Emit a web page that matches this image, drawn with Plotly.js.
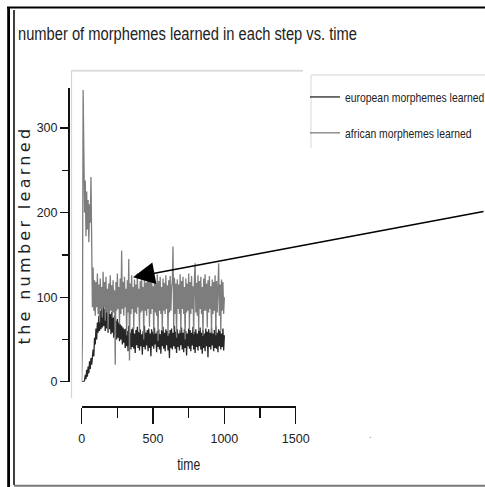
<!DOCTYPE html>
<html>
<head>
<meta charset="utf-8">
<script src="https://cdn.plot.ly/plotly-3.0.1.min.js"></script>
<style>
  html, body { margin: 0; padding: 0; background: #fff; overflow: hidden; }
  #chart { width: 485px; height: 487px; }
  .ytitle { letter-spacing: 3.3px; }
  .gtitle { transform: scaleX(0.84); transform-box: fill-box; transform-origin: left center; }
  .legendtext { transform: scaleX(0.8); transform-box: fill-box; transform-origin: left center; }
  .xtitle { transform: scaleX(0.76); transform-box: fill-box; transform-origin: center; }
</style>
</head>
<body>
<div id="chart"></div>
<script>
// ---- data ----
const time = [
  0,5,10,15,20,25,30,35,40,45,50,55,60,65,70,75,80,85,90,95,
  100,105,110,115,120,125,130,135,140,145,150,155,160,165,170,175,180,185,190,195,
  200,205,210,215,220,225,230,235,240,245,250,255,260,265,270,275,280,285,290,295,
  300,305,310,315,320,325,330,335,340,345,350,355,360,365,370,375,380,385,390,395,
  400,405,410,415,420,425,430,435,440,445,450,455,460,465,470,475,480,485,490,495,
  500,505,510,515,520,525,530,535,540,545,550,555,560,565,570,575,580,585,590,595,
  600,605,610,615,620,625,630,635,640,645,650,655,660,665,670,675,680,685,690,695,
  700,705,710,715,720,725,730,735,740,745,750,755,760,765,770,775,780,785,790,795,
  800,805,810,815,820,825,830,835,840,845,850,855,860,865,870,875,880,885,890,895,
  900,905,910,915,920,925,930,935,940,945,950,955,960,965,970,975,980,985,990,995,
  1000
];

const europeanLearned = [
  0,0,0,0,2,
  8,3,14,6,18,10,24,15,28,20,33,
  38,30,52,44,63,50,70,
  58,78,60,84,62,88,64,92,66,86,60,90,63,84,58,86,62,80,56,82,
  58,76,52,78,55,72,50,74,52,70,48,68,50,66,44,64,46,62,
  40,63,42,60,36,66,44,58,38,62,41,64,39,57,34,61,43,65,40,59,
  37,62,42,56,32,60,41,66,38,58,43,61,36,63,40,57,30,62,42,59,
  39,64,44,57,35,60,41,62,38,56,33,61,42,65,39,58,36,62,43,60,
  37,57,28,61,40,63,38,58,42,66,39,59,34,62,41,57,37,61,43,64,
  38,58,35,62,40,60,31,57,42,63,39,61,36,58,43,65,38,59,34,62,
  41,57,37,60,42,64,38,58,33,61,40,57,36,63,42,59,29,62,41,58,
  38,64,43,57,36,61,40,66,39,58,35,62,42,60,38,57,41,63,37,55
];

const africanLearned = [
  0,50,345,270,200,238,172,225,180,215,165,210,188,242,110,88,
  135,84,120,78,118,88,128,80,115,70,122,86,112,76,130,88,118,72,124,82,
  110,60,116,80,126,84,114,76,120,82,108,20,118,84,128,86,112,68,122,80,
  155,86,118,78,124,88,110,55,120,82,145,25,116,80,126,86,112,62,121,82,
  115,80,128,88,110,58,119,82,124,84,112,50,126,84,117,78,122,86,134,65,
  118,80,125,86,113,56,121,82,116,78,127,48,119,84,124,80,112,60,122,84,
  117,80,126,86,114,54,120,82,125,84,111,118,160,62,123,80,116,52,121,86,
  115,80,127,58,119,86,124,80,112,50,122,82,116,84,128,62,118,80,125,86,
  113,56,121,140,82,117,78,126,60,119,86,124,80,112,54,122,84,127,84,116,
  64,120,82,125,86,113,58,121,80,118,84,126,55,119,82,124,140,78,115,60,
  121,84,118,80,100
];

const seriesNames = ['european morphemes learned', 'african morphemes learned'];
const xTickVals = [0, 500, 1000, 1500];
const yTickVals = [0, 100, 200, 300];

// ---- layout helpers (pixel -> paper) ----
const W = 485, H = 487;
const px = x => x / W;
const py = y => 1 - y / H;

const sans = 'Liberation Sans, Arial, sans-serif';

const traces = [
  {
    x: time, y: europeanLearned, type: 'scatter', mode: 'lines',
    name: seriesNames[0], legendgroup: 'eu',
    line: { color: '#262626', width: 1.3 }
  },
  {
    x: time, y: africanLearned, type: 'scatter', mode: 'lines',
    name: seriesNames[1], legendgroup: 'af',
    line: { color: '#7d7d7d', width: 1.3 }
  }
];

function seg(x0, y0, x1, y1, color, width) {
  return { type: 'line', xref: 'paper', yref: 'paper',
    x0: px(x0), y0: py(y0), x1: px(x1), y1: py(y1),
    line: { color: color, width: width } };
}

const layout = {
  width: W, height: H,
  margin: { l: 0, r: 0, t: 0, b: 0, pad: 0, autoexpand: false },
  paper_bgcolor: '#fff', plot_bgcolor: 'rgba(0,0,0,0)',
  font: { family: sans, color: '#222' },
  title: {
    text: 'number of morphemes learned in each step vs. time',
    font: { family: sans, size: 17.5, color: '#222' },
    xref: 'container', yref: 'container',
    x: px(18), xanchor: 'left', y: py(34), yanchor: 'middle'
  },
  xaxis: {
    domain: [px(81.7), px(295.7)], range: [0, 1500],
    anchor: 'free', position: py(406),
    showline: true, linecolor: '#111', linewidth: 1.5,
    showgrid: false, zeroline: false,
    ticks: 'outside', ticklen: 16, tickwidth: 1.3, tickcolor: '#111',
    tickmode: 'array', tickvals: xTickVals, ticktext: xTickVals.map(String),
    ticklabelstandoff: 4,
    minor: { dtick: 250, tick0: 0, ticks: 'outside', ticklen: 10, tickwidth: 1.3, tickcolor: '#111', showgrid: false },
    tickfont: { family: sans, size: 12.5, color: '#222' },
    title: { text: 'time', font: { family: sans, size: 16, color: '#222' }, standoff: 14 }
  },
  yaxis: {
    domain: [py(381.7), py(88.3)], range: [0, 347],
    anchor: 'free', position: px(68),
    showline: true, linecolor: '#111', linewidth: 1.5,
    showgrid: false, zeroline: false,
    ticks: 'outside', ticklen: 8, tickwidth: 1.3, tickcolor: '#111',
    tickmode: 'array', tickvals: yTickVals, ticktext: yTickVals.map(String),
    minor: { dtick: 50, tick0: 0, ticks: 'outside', ticklen: 6, tickwidth: 1.3, tickcolor: '#111', showgrid: false },
    tickfont: { family: sans, size: 12.5, color: '#222' },
    title: { text: 'the number learned', font: { family: 'DejaVu Sans, sans-serif', size: 16, color: '#222' }, standoff: 0 }
  },
  showlegend: true,
  legend: {
    x: px(305), y: py(82), xanchor: 'left', yanchor: 'top',
    bgcolor: 'rgba(0,0,0,0)', borderwidth: 0,
    font: { family: sans, size: 13, color: '#222' },
    traceorder: 'grouped', tracegroupgap: 16, itemwidth: 30
  },
  shapes: [
    seg(8.6, 7, 8.6, 487, '#000', 2.8),
    seg(14, 10, 14, 485, '#000', 1.5),
    seg(7, 7.5, 485, 7.5, '#000', 2),
    seg(14, 485.8, 485, 485.8, '#777', 2),
    seg(71.5, 70, 71.5, 398, '#d6d6d6', 1.2),
    seg(72, 70.7, 303, 70.7, '#dcdcdc', 2),
    seg(311, 75, 311, 148, '#dedede', 1.2),
    seg(311, 75, 485, 75, '#e2e2e2', 1.5)
  ],
  annotations: [
    {
      x: 359.6, y: 123.5, xref: 'x', yref: 'y', text: '',
      showarrow: true, ax: 354, ay: -66, axref: 'pixel', ayref: 'pixel',
      arrowhead: 2, arrowsize: 2.9, arrowwidth: 1.5, arrowcolor: '#000', standoff: 0
    },
    {
      x: px(374), y: py(442), xref: 'paper', yref: 'paper', text: '.',
      showarrow: false, font: { size: 10, color: '#999' }
    }
  ]
};

Plotly.newPlot('chart', traces, layout, { displayModeBar: false, staticPlot: true });
</script>
</body>
</html>
